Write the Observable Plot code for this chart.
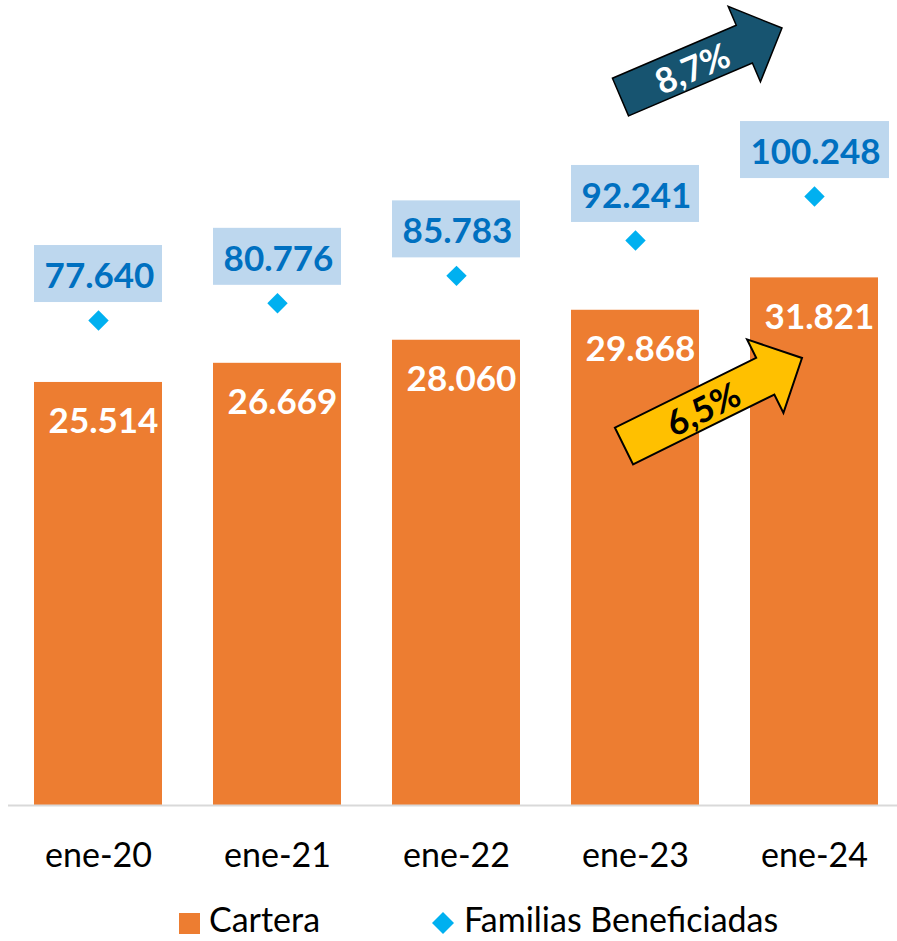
<!DOCTYPE html>
<html>
<head>
<meta charset="utf-8">
<script src="https://cdn.jsdelivr.net/npm/d3@7"></script>
<script src="https://cdn.jsdelivr.net/npm/@observablehq/plot@0.6"></script>
<style>
  html, body { margin: 0; padding: 0; background: #fff; }
  #chart { position: relative; width: 897px; height: 904px; }
  #chart svg { position: absolute; left: 0; top: 0; }
  #legend { position: relative; width: 897px; height: 37px; font-family: Lato, "Open Sans", sans-serif; font-size: 34px; color: #000; }
  #legend .lbl { position: absolute; top: -5px; line-height: 40.8px; white-space: nowrap; }
</style>
</head>
<body>
<div id="chart"></div>
<div id="legend"></div>
<script>
// ---- data ----
const categories = ["ene-20", "ene-21", "ene-22", "ene-23", "ene-24"];
const cartera = [25.514, 26.669, 28.060, 29.868, 31.821];
const familias = [77.640, 80.776, 85.783, 92.241, 100.248];
const carteraLabels = ["25.514", "26.669", "28.060", "29.868", "31.821"];
const familiasLabels = ["77.640", "80.776", "85.783", "92.241", "100.248"];
const growthLabels = ["8,7%", "6,5%"];
const seriesNames = ["Cartera", "Familias Beneficiadas"];

// ---- tables ----
const bars = categories.map((c, i) => ({cat: c, value: cartera[i], label: carteraLabels[i]}));
const fam = categories.map((c, i) => ({cat: c, value: familias[i], label: familiasLabels[i]}));

const W = 897, H = 904;
const FONT = "Lato, 'Open Sans', sans-serif";
const xOpts = {domain: categories, range: [8, 903.5], paddingInner: 0.285, paddingOuter: 0.1425};

// block arrow annotation drawn through the plot's scales
function blockArrow({from, to, label, fill, textFill, shaft = 41, head = 82, headLen = 41, fontSize = 35, at = 0.44, off = 2, strokeWidth = 1.5}) {
  return (index, scales) => {
    const x = scales.x, y = scales.y;
    const half = x.bandwidth ? x.bandwidth() / 2 : 0;
    const tx = x(from.x) + half + from.dx, ty = y(from.y);
    const px = x(to.x) + half + to.dx, py = y(to.y);
    const len = Math.hypot(px - tx, py - ty);
    const ux = (px - tx) / len, uy = (py - ty) / len;
    const nx = -uy, ny = ux;
    const bx = px - ux * headLen, by = py - uy * headLen;
    const pts = [
      [tx + nx * shaft / 2, ty + ny * shaft / 2],
      [bx + nx * shaft / 2, by + ny * shaft / 2],
      [bx + nx * head / 2, by + ny * head / 2],
      [px, py],
      [bx - nx * head / 2, by - ny * head / 2],
      [bx - nx * shaft / 2, by - ny * shaft / 2],
      [tx - nx * shaft / 2, ty - ny * shaft / 2]
    ];
    const g = d3.create("svg:g");
    g.append("path")
      .attr("d", "M" + pts.map(p => p.join(",")).join("L") + "Z")
      .attr("fill", fill).attr("stroke", "#000").attr("stroke-width", strokeWidth)
      .attr("stroke-linejoin", "miter");
    const cx = tx + ux * len * at + nx * off, cy = ty + uy * len * at + ny * off;
    const ang = Math.atan2(uy, ux) * 180 / Math.PI;
    g.append("text")
      .attr("transform", `translate(${cx},${cy}) rotate(${ang})`)
      .attr("text-anchor", "middle").attr("dy", "0.36em")
      .attr("font-family", FONT).attr("font-weight", "bold").attr("font-size", fontSize)
      .attr("fill", textFill).text(label);
    return g.node();
  };
}

const main = Plot.plot({
  width: W, height: H,
  marginTop: 0, marginBottom: 99, marginLeft: 8, marginRight: 0,
  style: {fontFamily: FONT, fontSize: "34px", color: "#000", background: "transparent", overflow: "visible"},
  x: {...xOpts, label: null, tickSize: 0, tickPadding: 37},
  y: {domain: [0, 48.55], axis: null},
  marks: [
    Plot.barY(bars, {x: "cat", y: "value", fill: "#ED7D31"}),
    Plot.ruleY([0], {stroke: "#D9D9D9", strokeWidth: 1.8}),
    Plot.text(bars, {x: "cat", y: "value", text: "label", fill: "white", fontWeight: "bold", fontSize: 35, lineAnchor: "bottom", dy: 51, dx: 5}),
    blockArrow({from: {x: "ene-23", dx: -11, y: 21.65}, to: {x: "ene-24", dx: -12, y: 26.96}, label: growthLabels[1], fill: "#FFC000", textFill: "#000", strokeWidth: 2})
  ]
});

const over = Plot.plot({
  width: W, height: H,
  marginTop: 0, marginBottom: 99, marginLeft: 8, marginRight: 0,
  style: {fontFamily: FONT, fontSize: "34px", color: "#000", background: "transparent", overflow: "visible"},
  x: {...xOpts, axis: null},
  y: {domain: [-10.8, 136], axis: null},
  marks: [
    Plot.barY(fam.filter(d => d.label.length < 7), {x: "cat", y1: "value", y2: "value", fill: "#BDD7EE", insetTop: -75, insetBottom: 18}),
    Plot.barY(fam.filter(d => d.label.length >= 7), {x: "cat", y1: "value", y2: "value", fill: "#BDD7EE", insetTop: -75, insetBottom: 18, insetLeft: -10, insetRight: -11}),
    Plot.text(fam, {x: "cat", y: "value", text: "label", fill: "#0070C0", fontWeight: "bold", fontSize: 35, lineAnchor: "bottom", dy: -32.5, dx: 1}),
    Plot.dot(fam, {x: "cat", y: "value", symbol: "diamond2", fill: "#00B0F0", r: 9.2}),
    blockArrow({from: {x: "ene-23", dx: -14.5, y: 118.3}, to: {x: "ene-24", dx: -32, y: 130.9}, label: growthLabels[0], fill: "#175470", textFill: "#fff"})
  ]
});

const chart = document.getElementById("chart");
chart.appendChild(main);
chart.appendChild(over);

// legend
const legend = d3.select("#legend");
legend.append("div").style("position", "absolute").style("left", "179px").style("top", "9px")
  .style("width", "21px").style("height", "21px").style("background", "#ED7D31");
legend.append("div").attr("class", "lbl").style("left", "209px").text(seriesNames[0]);
const ds = legend.append("svg").attr("width", 22).attr("height", 22)
  .style("position", "absolute").style("left", "432px").style("top", "8px");
ds.append("polygon").attr("points", "11,0 22,11 11,22 0,11").attr("fill", "#00B0F0");
legend.append("div").attr("class", "lbl").style("left", "464px").text(seriesNames[1]);
</script>
</body>
</html>
